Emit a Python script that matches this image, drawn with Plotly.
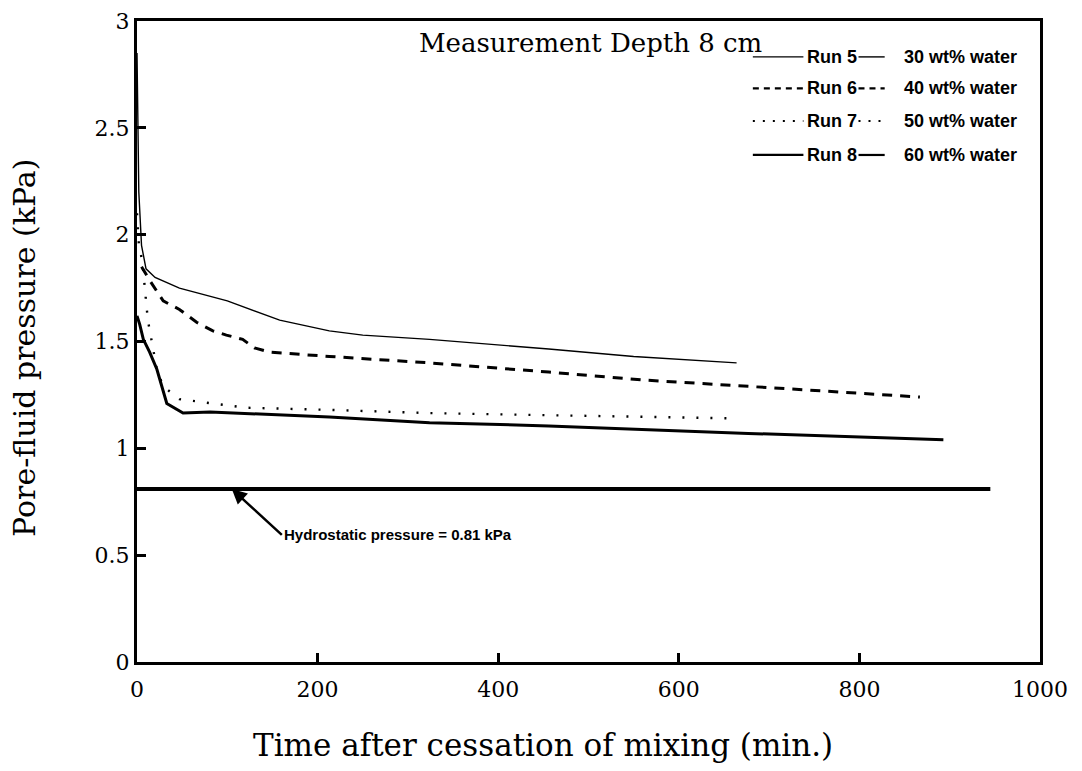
import plotly.graph_objects as go

# ---- data ----
run5_t = [0, 2, 5, 10, 20, 47, 100, 158, 213, 250, 324, 400, 456, 550, 664]
run5_p = [2.85, 2.2, 1.95, 1.84, 1.80, 1.75, 1.69, 1.60, 1.55, 1.53, 1.51, 1.485, 1.465, 1.43, 1.40]

run6_t = [5, 15, 29, 47, 66, 84, 99, 117, 130, 147, 213, 324, 456, 560, 677, 867]
run6_p = [1.85, 1.78, 1.69, 1.65, 1.59, 1.55, 1.53, 1.51, 1.47, 1.45, 1.43, 1.40, 1.357, 1.32, 1.29, 1.24]

run7_t = [0, 2, 6, 12, 22, 29, 47, 81, 121, 213, 324, 456, 666]
run7_p = [2.1, 1.96, 1.87, 1.6, 1.37, 1.29, 1.23, 1.21, 1.19, 1.18, 1.165, 1.155, 1.14]

run8_t = [0, 3, 7, 14, 22, 29, 33, 51, 81, 213, 324, 456, 677, 893]
run8_p = [1.62, 1.58, 1.51, 1.45, 1.37, 1.27, 1.21, 1.165, 1.17, 1.147, 1.12, 1.105, 1.07, 1.04]

hydro_t = [0, 945]
hydro_p = [0.81, 0.81]

run_names = ["Run 5", "Run 6", "Run 7", "Run 8"]
water_labels = ["30 wt% water", "40 wt% water", "50 wt% water", "60 wt% water"]
x_ticks = [0, 200, 400, 600, 800, 1000]
y_ticks = [0, 0.5, 1, 1.5, 2, 2.5, 3]
y_tick_text = ["0", "0.5", "1", "1.5", "2", "2.5", "3"]

styles = [
    dict(width=1.4, dash="solid"),
    dict(width=3, dash="10px,8px"),
    dict(width=2.4, dash="2px,12px"),
    dict(width=3, dash="solid"),
]

fig = go.Figure()
series = [(run5_t, run5_p), (run6_t, run6_p), (run7_t, run7_p), (run8_t, run8_p)]
for (t, p), st, nm in zip(series, styles, run_names):
    fig.add_trace(go.Scatter(x=t, y=p, mode="lines", name=nm,
                             line=dict(color="black", width=st["width"], dash=st["dash"]),
                             showlegend=False))
fig.add_trace(go.Scatter(x=hydro_t, y=hydro_p, mode="lines", name="Hydrostatic",
                         line=dict(color="black", width=4), showlegend=False))

# ---- legend drawn as decorations (paper coords) ----
row_y = [0.944, 0.895, 0.844, 0.791]
shapes = []
annotations = []
lab_font = dict(family="Liberation Sans Narrow, Liberation Sans, Arial", size=18, color="black")
for i, (nm, wl) in enumerate(zip(run_names, water_labels)):
    st = styles[i]
    for x0, x1 in [(0.682, 0.738), (0.799, 0.828)]:
        shapes.append(dict(type="line", xref="paper", yref="paper", x0=x0, x1=x1,
                           y0=row_y[i], y1=row_y[i],
                           line=dict(color="black", width=min(st["width"], 2.2),
                                     dash="6px,5px" if i == 1 else ("2px,8px" if i == 2 else "solid"))))
    annotations.append(dict(xref="paper", yref="paper", x=0.740, y=row_y[i], text="<b>" + nm + "</b>",
                            showarrow=False, xanchor="left", yanchor="middle", font=lab_font))
    annotations.append(dict(xref="paper", yref="paper", x=0.847, y=row_y[i], text="<b>" + wl + "</b>",
                            showarrow=False, xanchor="left", yanchor="middle", font=lab_font))

serif = "DejaVu Serif, Liberation Serif, serif"
annotations.append(dict(xref="paper", yref="paper", x=0.502, y=0.966, text="Measurement Depth 8 cm",
                        showarrow=False, xanchor="center", yanchor="middle",
                        font=dict(family=serif, size=26, color="black")))
annotations.append(dict(xref="paper", yref="paper", x=0.45, y=-0.13, text="Time after cessation of mixing (min.)",
                        showarrow=False, xanchor="center", yanchor="middle",
                        font=dict(family=serif, size=31, color="black")))
annotations.append(dict(xref="paper", yref="paper", x=-0.124, y=0.49, text="Pore-fluid pressure (kPa)",
                        showarrow=False, xanchor="center", yanchor="middle", textangle=-90,
                        font=dict(family=serif, size=30, color="black")))
annotations.append(dict(x=105, y=0.81, xref="x", yref="y", text="<b>Hydrostatic pressure = 0.81 kPa</b>",
                        showarrow=True, arrowhead=2, arrowsize=1.2, arrowwidth=2.5, arrowcolor="black",
                        ax=50, ay=46, xanchor="left", yanchor="middle",
                        font=dict(family="Liberation Sans Narrow, Liberation Sans, Arial", size=15, color="black")))

tick_font = dict(family=serif, size=22, color="black")
fig.update_layout(
    width=1082, height=771,
    margin=dict(l=129, r=50, t=13, b=117),
    paper_bgcolor="white", plot_bgcolor="white",
    shapes=shapes, annotations=annotations,
    xaxis=dict(range=[0, 1000], tickvals=x_ticks, ticks="inside", ticklen=9, tickwidth=2.5,
               tickcolor="black", showline=True, linecolor="black", linewidth=3, mirror=True,
               showgrid=False, zeroline=False, tickfont=tick_font, ticklabelstandoff=6,
               automargin=False),
    yaxis=dict(range=[0, 3], tickvals=y_ticks, ticktext=y_tick_text, ticks="inside", ticklen=9,
               tickwidth=2.5, tickcolor="black", showline=True, linecolor="black", linewidth=3,
               mirror=True, showgrid=False, zeroline=False, tickfont=tick_font, automargin=False),
)

fig.write_html("out.html")
